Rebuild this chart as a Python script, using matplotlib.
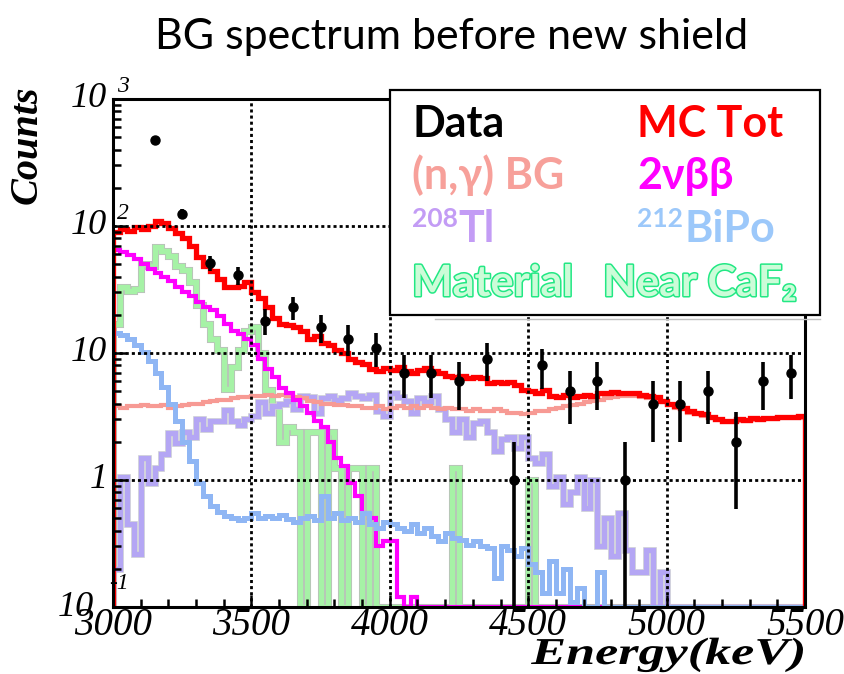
import matplotlib.pyplot as plt
import matplotlib.patheffects as pe
import matplotlib.ticker as mt
from matplotlib.patches import Rectangle, PathPatch
from matplotlib.lines import Line2D
from matplotlib.textpath import TextPath
from matplotlib.font_manager import FontProperties
from matplotlib.transforms import Affine2D, IdentityTransform
import numpy as np

# 25 keV bins from 3000 to 5500 keV
energy_edges = np.linspace(3000, 5500, 101)

mc_tot = [90, 95, 92, 98, 95, 100, 110, 105, 96, 88,
          80, 70, 57, 48, 44, 38, 33, 33, 34, 36,
          30, 27, 23, 19, 17, 16.5, 16, 15, 13, 13.5,
          12, 11.5, 10.5, 10, 9, 8.5, 8.2, 7.5, 7.2, 7.6,
          7.3, 7.8, 7.2, 7.0, 7.4, 7.6, 7.2, 7.0, 6.6, 6.5,
          6.6, 6.3, 6.5, 6.3, 5.8, 5.9, 5.8, 5.9, 5.6, 5.1,
          5.0, 4.8, 5.1, 4.6, 4.5, 4.7, 4.5, 4.6, 4.7, 4.6,
          4.8, 4.8, 4.9, 4.8, 4.8, 4.8, 4.7, 4.6, 4.5, 4.2,
          4.0, 3.8, 3.7, 3.5, 3.4, 3.3, 3.15, 3.0, 2.9, 2.9,
          3.0, 2.95, 3.05, 3.0, 3.1, 3.05, 3.15, 3.15, 3.15, 3.2]

n_gamma = [3.8, 3.7, 3.8, 3.8, 3.9, 3.8, 3.8, 3.9, 3.7, 3.8,
           3.9, 4.0, 4.0, 4.1, 4.2, 4.3, 4.3, 4.4, 4.5, 4.5,
           4.6, 4.6, 4.7, 4.6, 4.7, 4.6, 4.5, 4.4, 4.2, 4.1,
           4.0, 4.0, 3.9, 3.9, 3.8, 3.8, 3.7, 3.7, 3.8, 3.6,
           3.7, 3.8, 3.7, 3.8, 3.7, 3.8, 3.7, 3.6, 3.7, 3.6,
           3.6, 3.5, 3.6, 3.5, 3.5, 3.6, 3.5, 3.4, 3.4, 3.3,
           3.4, 3.5, 3.5, 3.6, 3.7, 3.8, 3.9, 4.0, 4.1, 4.2,
           4.3, 4.4, 4.5, 4.6, 4.6, 4.6, 4.5, 4.4, 4.3, 4.1,
           3.9, 3.7, 3.6, 3.4, 3.3, 3.2, 3.05, 2.95, 2.85, 2.85,
           2.9, 2.9, 2.95, 2.95, 3.0, 3.0, 3.05, 3.05, 3.1, 3.1]

two_nu_bb = [65, 62, 59, 55, 50, 46, 43, 40, 37, 33,
             30, 28, 25, 23, 22, 19.5, 17, 15, 14, 13,
             11.5, 9, 7.5, 6.5, 5.3, 4.8, 4.3, 3.8, 3.4, 2.9,
             2.6, 2.0, 1.5, 1.3, 0.95, 0.75, 0.55, 0.5, 0.3, 0.33,
             0.33, 0.12, 0, 0.12, 0, 0, 0, 0, 0, 0,
             0, 0, 0, 0, 0, 0, 0, 0, 0, 0,
             0, 0, 0, 0, 0, 0, 0, 0, 0, 0,
             0, 0, 0, 0, 0, 0, 0, 0, 0, 0,
             0, 0, 0, 0, 0, 0, 0, 0, 0, 0,
             0, 0, 0, 0, 0, 0, 0, 0, 0, 0]

tl208 = [0.2, 1.05, 0.45, 0.26, 1.5, 0.95, 1.25, 1.6, 2.35, 1.95,
         2.4, 2.2, 3.0, 2.5, 2.9, 2.9, 3.55, 2.9, 2.7, 3.0,
         3.2, 4.1, 3.4, 3.8, 4.0, 4.2, 3.6, 4.6, 4.5, 3.4,
         4.4, 4.6, 4.3, 4.4, 4.8, 4.6, 4.4, 4.7, 3.5, 3.2,
         4.8, 4.5, 4.2, 3.4, 4.4, 4.1, 4.6, 3.6, 3.0, 2.4,
         3.0, 2.2, 2.8, 2.9, 2.4, 1.7, 2.1, 2.2, 1.8, 2.2,
         1.5, 1.35, 1.6, 0.9, 1.05, 0.65, 0.8, 1.05, 0.6, 1.0,
         0.3, 0.5, 0.25, 0.55, 0.28, 0.19, 0.19, 0.28, 0, 0.19,
         0, 0, 0, 0, 0, 0, 0, 0, 0, 0,
         0, 0, 0, 0, 0, 0, 0, 0, 0, 0]

bipo212 = [14.4, 13.8, 12.8, 11.5, 10.2, 8.6, 7.0, 5.4, 4.0, 2.9,
           2.0, 1.4, 0.95, 0.75, 0.62, 0.56, 0.52, 0.5, 0.48, 0.5,
           0.55, 0.5, 0.52, 0.5, 0.53, 0.49, 0.47, 0.5, 0.52, 0.48,
           0.75, 0.5, 0.55, 0.48, 0.5, 0.47, 0.55, 0.45, 0.42, 0.47,
           0.45, 0.42, 0.4, 0.45, 0.38, 0.42, 0.36, 0.33, 0.38, 0.35,
           0.34, 0.31, 0.33, 0.3, 0.29, 0.17, 0.3, 0.28, 0.25, 0.29,
           0.22, 0.19, 0.13, 0.23, 0.13, 0.2, 0.11, 0.14, 0.1, 0,
           0.19, 0, 0, 0, 0, 0, 0, 0, 0, 0,
           0, 0, 0, 0, 0, 0, 0, 0, 0, 0,
           0, 0, 0, 0, 0, 0, 0, 0, 0, 0]

material = [17, 33, 31, 32, 50, 48, 68, 64, 58, 48,
            45, 36, 24, 17, 13, 10.5, 5.2, 7.7, 10.5, 15,
            16, 10, 5.1, 3.8, 2.0, 2.6, 2.4, 0, 2.4, 2.4,
            0, 2.4, 1.25, 0, 1.25, 1.25, 0, 1.25, 0, 0,
            0, 0, 0, 0, 0, 0, 0, 0, 0, 1.25,
            0, 0, 0, 0, 0, 0, 0, 0, 0, 0,
            1.0, 0, 0, 0, 0, 0, 0, 0, 0, 0,
            0, 0, 0, 0, 0, 0, 0, 0, 0, 0,
            0, 0, 0, 0, 0, 0, 0, 0, 0, 0,
            0, 0, 0, 0, 0, 0, 0, 0, 0, 0]

data_e = [3150, 3250, 3350, 3450, 3550, 3650, 3750, 3850, 3950, 4050, 4150, 4250,
          4350, 4450, 4550, 4650, 4750, 4850, 4950, 5050, 5150, 5250, 5350, 5450]
data_counts = [475, 124, 51, 41, 18, 23, 16, 13, 11, 7, 7, 6,
               9, 1, 8, 5, 6, 1, 4, 4, 5, 2, 6, 7]
data_err = [22, 11, 7, 6.4, 4.2, 4.8, 4, 3.6, 3.3, 2.6, 2.6, 2.45,
            3, 1, 2.8, 2.24, 2.45, 1, 2, 2, 2.24, 1.41, 2.45, 2.65]

x_ticks = [3000, 3500, 4000, 4500, 5000, 5500]
decades = [-1, 0, 1, 2, 3]

W, H = 844, 674
def fx(px):
    return px / W
def fy(py):
    return 1 - py / H

serif = 'Liberation Serif'
sans = ['Lato', 'DejaVu Sans']
ymin, ymax = 0.1, 1000

fig = plt.figure(figsize=(W / 100, H / 100), dpi=100)
ax = fig.add_axes([fx(113), fy(607), 692 / W, 508 / H])
ax.set_yscale('log')
ax.set_xlim(3000, 5500)
ax.set_ylim(ymin, ymax)

def draw(vals, color, lw, z, outline=None):
    # empty bins are drawn on the frame bottom, as ROOT does
    v = np.clip(np.asarray(vals, float), ymin, None)
    eff = [pe.Stroke(linewidth=lw + 1.2, foreground=outline), pe.Normal()] if outline else None
    ax.stairs(v, energy_edges, baseline=ymin, color=color, lw=lw, zorder=z,
              path_effects=eff)

draw(material, '#a6f2a6', 3.9, 1.0, outline='#bcbcbc')
draw(tl208, '#b4a6f4', 3.6, 1.1, outline='#cacad8')
draw(n_gamma, '#f79a94', 3.0, 1.2)
draw(two_nu_bb, '#ff00ff', 3.0, 1.3)
draw(bipo212, '#8fb6f4', 3.6, 1.4)
draw(mc_tot, '#ff0000', 3.8, 1.5)

ax.errorbar(data_e, data_counts, yerr=data_err, fmt='o', color='black', ms=6.5,
            elinewidth=2.6, capsize=0, zorder=6)

ax.set_axisbelow(False)
ax.grid(True, which='major', color='black', ls=(0, (1.1, 1.1)), lw=2.0)

ax.xaxis.set_minor_locator(mt.MultipleLocator(100))
ax.yaxis.set_minor_locator(mt.LogLocator(base=10, subs=range(2, 10), numticks=20))
ax.yaxis.set_minor_formatter(mt.NullFormatter())
ax.set_xticks(x_ticks, labels=[str(v) for v in x_ticks], fontsize=28,
              fontfamily=serif, fontstyle='italic')
ax.set_yticks([10.0 ** d for d in decades], labels=[''] * len(decades))
ax.tick_params(which='major', direction='in', length=9, width=1.8, pad=0,
               top=False, right=False)
ax.tick_params(which='minor', direction='in', length=5.5, width=1.8,
               top=False, right=False)
for s in ax.spines.values():
    s.set_linewidth(2.2)

# ROOT-style decade labels: "10" outside the frame, exponent just inside
for d in decades:
    y = 10.0 ** d
    main = '1' if d == 0 else '10'
    shift = -14 if d < 0 else -4
    ax.annotate(main, xy=(0, y), xycoords=('axes fraction', 'data'),
                xytext=(shift, 0), textcoords='offset points', ha='right', va='center',
                fontsize=26, fontfamily=serif, fontstyle='italic', annotation_clip=False)
    if d not in (0, 1):
        up = 17 if d < 0 else 9
        ax.annotate(str(d), xy=(0, y), xycoords=('axes fraction', 'data'),
                    xytext=(-3 if d < 0 else 3, up), textcoords='offset points',
                    ha='left', va='center', fontsize=17, fontfamily=serif,
                    fontstyle='italic', annotation_clip=False)

fig.text(fx(27), fy(145), 'Counts', rotation=90, ha='center', va='center',
         fontsize=29, fontfamily=serif, fontstyle='italic', fontweight='bold')

# x title is drawn wide, like the ROOT canvas
fp = FontProperties(family=serif, style='italic', weight='bold')
tp = TextPath((0, 0), 'Energy(keV)', size=38, prop=fp)
ext = tp.get_extents()
sx = 272 / ext.width
fig.add_artist(PathPatch(tp, transform=Affine2D().translate(-ext.x0, 0).scale(sx, 1.0)
                         .translate(531, H - 664) + IdentityTransform(),
                         facecolor='black', edgecolor='none', zorder=5))

fig.text(fx(452), fy(37), 'BG spectrum before new shield', ha='center', va='center',
         fontsize=31, family=sans)

# legend box
fig.add_artist(Line2D([fx(435), fx(820)], [fy(319), fy(319)], color='#c0c0c0', lw=1,
                      transform=fig.transFigure, zorder=9))
fig.add_artist(Rectangle((fx(390), fy(315)), 430 / W, 225 / H, transform=fig.transFigure,
                         facecolor='white', edgecolor='black', lw=1.6, zorder=10))

def legend_text(px, py, s, color, size=31, **kw):
    return fig.text(fx(px), fy(py), s, color=color, fontsize=size, fontweight='bold',
                    family=sans, va='baseline', ha='left', zorder=11, **kw)

legend_text(412, 137, 'Data', 'black')
legend_text(637, 137, 'MC Tot', '#ff0000')
legend_text(412, 189, '(n,γ) BG', '#f7a09a')
legend_text(637, 189, '2νββ', '#ff00ff')
legend_text(412, 227, '208', '#c39cf5', size=19)
legend_text(458, 242, 'Tl', '#c39cf5')
legend_text(637, 227, '212', '#9cc8fa', size=19)
legend_text(684, 242, 'BiPo', '#9cc8fa')
glow = [pe.Stroke(linewidth=2.2, foreground='#22e884'), pe.Normal()]
legend_text(412, 296, 'Material', '#ccfcd8', path_effects=glow)
legend_text(603, 296, 'Near CaF₂', '#ccfcd8', path_effects=glow)

fig.savefig('out.png', dpi=100)
